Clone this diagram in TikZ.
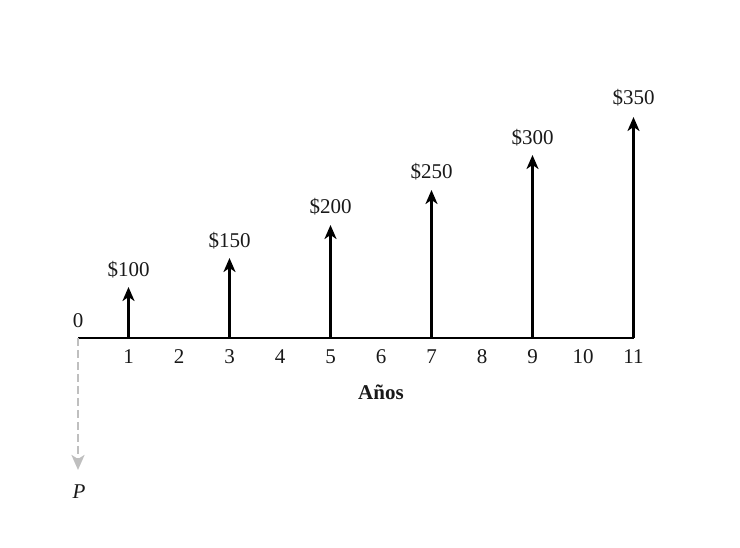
\documentclass[tikz,border=0pt]{standalone}
\usepackage{fontspec}
\setmainfont{Liberation Serif}
\usetikzlibrary{arrows.meta}
\begin{document}
\begin{tikzpicture}[x=1pt,y=-1pt,
  lbl/.style={font=\fontsize{21}{23}\selectfont, inner sep=0pt, text=black!90},
  flow/.style={line width=2.4pt, -{Stealth[length=14pt,width=12pt,inset=4pt]}},
  axisline/.style={line width=2.4pt}]
\useasboundingbox (0,0) rectangle (740,548);
% axis
\coordinate (o) at (78,338);
\coordinate (e) at (634,338);
\draw[axisline] (o) -- (e);
\node[lbl] (zero) at (78,321) {0};
% tick labels
\foreach \i in {1,...,11} {
  \node[lbl] (t\i) at ({78+50.5*\i},357) {\i};
}
\node[lbl, font=\fontsize{21}{23}\selectfont\bfseries] (anos) at (381,392) {Años};
% cash flow arrows
\foreach \i/\top/\ly/\amt in {1/287/270/100, 3/258/241/150, 5/225/207/200, 7/190/172/250, 9/155/138/300, 11/117/98/350} {
  \coordinate (b\i) at ({78+50.5*\i},338);
  \coordinate (h\i) at ({78+50.5*\i},\top);
  \draw[flow] (b\i) -- (h\i);
  \node[lbl] (a\i) at ({78+50.5*\i},\ly) {\$\amt};
}
% present value
\coordinate (pend) at (78,470);
\draw[line width=2.8pt, black!25, dash pattern=on 8pt off 4pt, -{Stealth[length=15pt,width=13pt,inset=4pt]}] (o) -- (pend);
\node[lbl, font=\fontsize{21}{23}\selectfont\itshape] (P) at (79,492) {P};
\end{tikzpicture}
\end{document}
